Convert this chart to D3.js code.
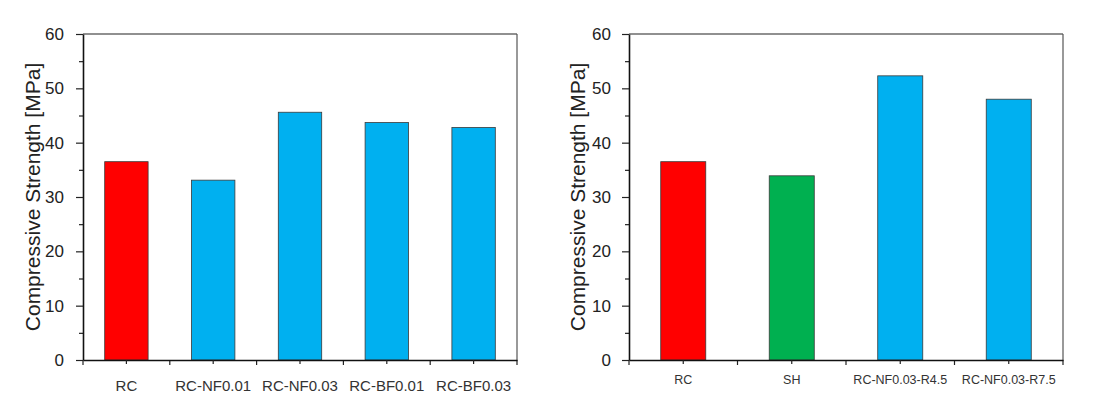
<!DOCTYPE html>
<html>
<head>
<meta charset="utf-8">
<script src="https://cdn.jsdelivr.net/npm/d3@7"></script>
<style>
  body { margin: 0; background: #fff; }
  svg { display: block; font-family: "Liberation Sans", Arial, sans-serif; }
</style>
</head>
<body>
<svg id="chart" width="1093" height="409"></svg>
<script>
// ---- Data ----
const leftCategories = ["RC", "RC-NF0.01", "RC-NF0.03", "RC-BF0.01", "RC-BF0.03"];
const leftValues = [36.5, 33.1, 45.6, 43.7, 42.8];
const leftColors = ["#ff0000", "#00b0f0", "#00b0f0", "#00b0f0", "#00b0f0"];

const rightCategories = ["RC", "SH", "RC-NF0.03-R4.5", "RC-NF0.03-R7.5"];
const rightValues = [36.5, 33.9, 52.3, 48.0];
const rightColors = ["#ff0000", "#00b050", "#00b0f0", "#00b0f0"];

const yMajorTicks = [0, 10, 20, 30, 40, 50, 60];
const yMinorTicks = [5, 15, 25, 35, 45, 55];
const yLabel = "Compressive Strength [MPa]";

const svg = d3.select("#chart");

function panel(cfg) {
  const g = svg.append("g");
  const x = d3.scaleBand().domain(cfg.categories).range([cfg.x0, cfg.x1])
    .paddingInner(cfg.pad).paddingOuter(cfg.pad / 2);
  const y = d3.scaleLinear().domain([0, 60]).range([cfg.yb, cfg.yt]);

  // bars
  g.selectAll("rect.bar").data(cfg.values).join("rect")
    .attr("class", "bar")
    .attr("x", (d, i) => x(cfg.categories[i]))
    .attr("width", x.bandwidth())
    .attr("y", d => y(d))
    .attr("height", d => y(0) - y(d))
    .attr("fill", (d, i) => cfg.colors[i])
    .attr("stroke", "#3a3a3a")
    .attr("stroke-width", 0.8);

  // frame top & right
  g.append("line").attr("x1", cfg.x0).attr("x2", cfg.x1).attr("y1", cfg.yt).attr("y2", cfg.yt)
    .attr("stroke", "#222").attr("stroke-width", 1.2);
  g.append("line").attr("x1", cfg.x1).attr("x2", cfg.x1).attr("y1", cfg.yt).attr("y2", cfg.yb)
    .attr("stroke", "#555").attr("stroke-width", 1.2);

  // y minor ticks
  g.append("g").attr("transform", `translate(${cfg.x0},0)`)
    .call(d3.axisLeft(y).tickValues(yMinorTicks).tickSize(4).tickFormat(""))
    .call(a => a.select(".domain").remove())
    .call(a => a.selectAll("line").attr("stroke", "#222").attr("stroke-width", 1.2));
  // y major
  g.append("g").attr("transform", `translate(${cfg.x0},0)`)
    .call(d3.axisLeft(y).tickValues(yMajorTicks).tickSize(7).tickSizeOuter(0).tickPadding(cfg.yPad))
    .call(a => a.select(".domain").attr("stroke", "#111").attr("stroke-width", 1.6))
    .call(a => a.selectAll("line").attr("stroke", "#222").attr("stroke-width", 1.2))
    .call(a => a.selectAll("text").attr("font-size", 17).attr("fill", "#222")
      .attr("font-family", "'Liberation Sans', Arial, sans-serif"));

  // x boundary ticks
  const step = x.step();
  const bounds = d3.range(cfg.categories.length + 1).map(i => cfg.x0 + i * step);
  g.selectAll("line.bt").data(bounds).join("line").attr("class", "bt")
    .attr("x1", d => d).attr("x2", d => d).attr("y1", cfg.yb).attr("y2", cfg.yb + 5)
    .attr("stroke", "#222").attr("stroke-width", 1.2);
  // x axis (centre ticks + labels)
  g.append("g").attr("transform", `translate(0,${cfg.yb})`)
    .call(d3.axisBottom(x).tickSize(4).tickSizeOuter(0).tickPadding(cfg.xPad))
    .call(a => a.select(".domain").attr("stroke", "#111").attr("stroke-width", 1.6))
    .call(a => a.selectAll("line").attr("stroke", "#222").attr("stroke-width", 1.2))
    .call(a => a.selectAll("text").attr("font-size", cfg.xFont).attr("fill", "#333")
      .attr("font-family", "'Liberation Sans', Arial, sans-serif"));

  // y label
  g.append("text")
    .attr("transform", `translate(${cfg.labelX},${(cfg.yt + cfg.yb) / 2}) rotate(-90)`)
    .attr("text-anchor", "middle").attr("dominant-baseline", "central")
    .attr("font-size", 21).attr("fill", "#222").text(yLabel);
}

panel({ categories: leftCategories, values: leftValues, colors: leftColors,
  x0: 83, x1: 517, yt: 34, yb: 360, pad: 0.5, yPad: 12, xPad: 16, xFont: 15, labelX: 32 });
panel({ categories: rightCategories, values: rightValues, colors: rightColors,
  x0: 629, x1: 1063, yt: 34, yb: 360, pad: 0.585, yPad: 11, xPad: 11, xFont: 12.5, labelX: 577 });
</script>
</body>
</html>
